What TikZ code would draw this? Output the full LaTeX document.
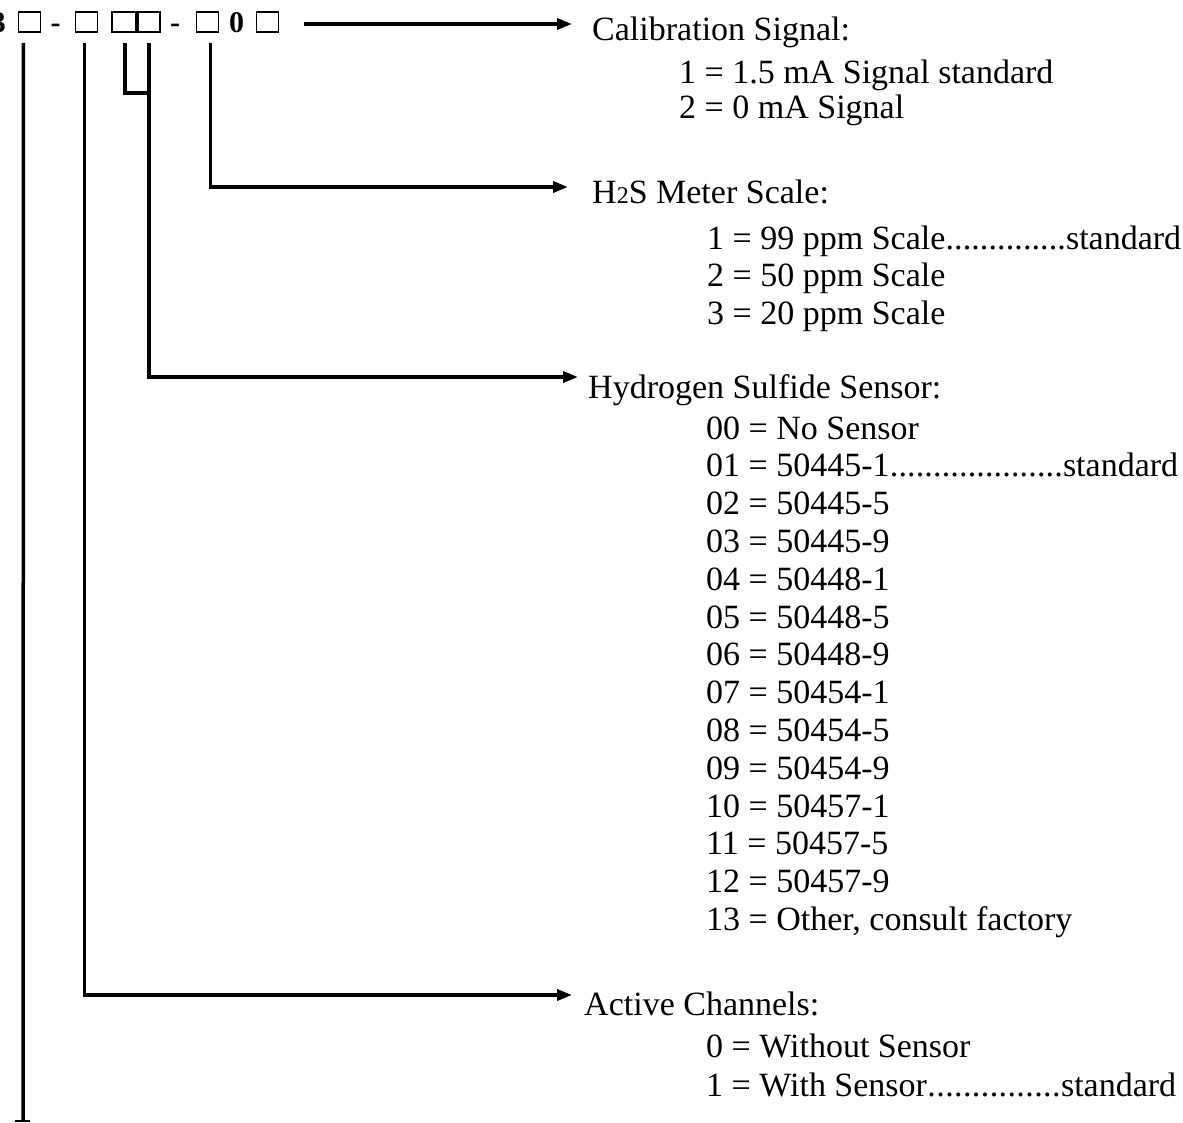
\documentclass[tikz,border=0pt]{standalone}
\usepackage{fontspec}
\setmainfont{Liberation Serif}
\usetikzlibrary{arrows.meta,calc}
\newcommand\dotlead{\xleaders\hbox{.}\hfill}
\begin{document}
\begin{tikzpicture}[x=1pt,y=-1pt,
  txt/.style={anchor=base west, inner sep=0pt, font=\fontsize{34}{38}\selectfont},
  box/.style={draw, line width=1.8pt, minimum width=22pt, minimum height=20pt, inner sep=0pt},
  code/.style={inner sep=0pt, font=\fontsize{30}{30}\selectfont\bfseries},
  wire/.style={line width=3.5pt},
  arr/.style={line width=3.5pt, -{Triangle[length=15pt,width=11pt]}}]
\useasboundingbox (0,0) rectangle (1183,1123);

% code row
\node[code, anchor=base east] (d3) at (6,33) {3};
\node[box] (b1) at (29.5,22) {};
\node[code, anchor=base] (m1) at (55.5,33) {-};
\node[box] (b2) at (86.5,22) {};
\node[box, minimum width=24pt] (b3) at (124,22) {};
\node[box] (b4) at (149,22) {};
\node[code, anchor=base] (m2) at (175,33) {-};
\node[box] (b5) at (207.5,22) {};
\node[code, anchor=base] (z0) at (236.5,33) {0};
\node[box] (b6) at (267.5,22) {};

% coordinates for connector ends
\coordinate (calTip) at (572,24);
\coordinate (scaleTip) at (568,187);
\coordinate (hsTip) at (578,377);
\coordinate (actTip) at (572,995);
\coordinate (join) at (149,93);
\coordinate (foot) at (23,1121);
\coordinate (footL) at (15,1121);
\coordinate (footR) at (30,1121);

% connectors
\draw[arr] ($(b6.east)+(25,2)$) -- (calTip);
\draw[arr] ($(b5.south)+(3,10)$) |- (scaleTip);
\draw[wire] ($(b3.south)+(1,10)$) |- (join);
\draw[arr] ($(b4.south)+(0,10)$) |- (hsTip);
\draw[arr] ($(b2.south)+(-2,10)$) |- (actTip);
\draw[wire] ($(b1.south)+(-6,10)$) -- (foot);
\draw[line width=2pt] (footL) -- (footR);

% Calibration
\node[txt] (cal) at (592,41) {Calibration Signal:};
\node[txt] (cal1) at (679,84) {1 = 1.5 mA Signal standard};
\node[txt] (cal2) at (679,119) {2 = 0 mA Signal};

% Meter scale
\node[txt] (sc) at (592,204) {H{\fontsize{24}{24}\selectfont 2}S Meter Scale:};
\node[txt] (sc1) at (707,250) {\makebox[474pt][l]{1 = 99 ppm Scale\dotlead standard}};
\node[txt] (sc2) at (707,287) {2 = 50 ppm Scale};
\node[txt] (sc3) at (707,324) {3 = 20 ppm Scale};

% Hydrogen sulfide sensor
\node[txt] (hs) at (588,398) {Hydrogen Sulfide Sensor:};
\foreach \i/\t in {0/00 = No Sensor,
  1/{\makebox[472pt][l]{01 = 50445-1\dotlead standard}},
  2/02 = 50445-5, 3/03 = 50445-9, 4/04 = 50448-1, 5/05 = 50448-5,
  6/06 = 50448-9, 7/07 = 50454-1, 8/08 = 50454-5, 9/09 = 50454-9,
  10/10 = 50457-1, 11/11 = 50457-5, 12/12 = 50457-9,
  13/{13 = Other, consult factory}}
  \node[txt] (hs\i) at (706,439+37.8*\i) {\t};

% Active channels
\node[txt] (ac) at (584,1015) {Active Channels:};
\node[txt] (ac0) at (706,1057) {0 = Without Sensor};
\node[txt] (ac1) at (706,1096) {\makebox[470pt][l]{1 = With Sensor\dotlead standard}};
\end{tikzpicture}
\end{document}
